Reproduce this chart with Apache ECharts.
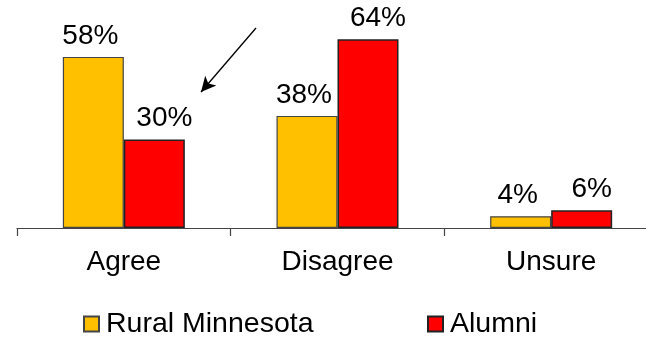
<!DOCTYPE html>
<html>
<head>
<meta charset="utf-8">
<script src="https://cdn.jsdelivr.net/npm/echarts@6/dist/echarts.min.js"></script>
<style>
  html, body {margin: 0; padding: 0; background: #fff; overflow: hidden;}
  /* plot runs past the right edge in the original, so the canvas is a bit wider than the window */
  #chart {width: 660px; height: 338px;}
</style>
</head>
<body>
<div id="chart"></div>
<script>
const categories = ["Agree", "Disagree", "Unsure"];
const ruralValues = [58, 38, 4];
const alumniValues = [30, 64, 6];
const seriesNames = ["Rural Minnesota", "Alumni"];

const FONT = "Liberation Sans, Arial, sans-serif";

const labelOpts = (dx) => ({
  show: true,
  position: "top",
  distance: 7,
  offset: [dx, 0],
  formatter: "{c}%",
  color: "#000",
  fontSize: 28,
  fontFamily: FONT,
});

const legendOpts = (name, left) => ({
  data: [name],
  left: left,
  top: 309,
  padding: 0,
  itemWidth: 15,
  itemHeight: 15,
  icon: "rect",
  textStyle: {fontSize: 28.5, fontFamily: FONT, color: "#000", lineHeight: 30, padding: [0, 0, 0, 2]},
});

const chart = echarts.init(document.getElementById("chart"));

chart.setOption({
  animation: false,
  backgroundColor: "#fff",
  grid: {left: 17, right: 2, top: 21.5, height: 206.5},
  legend: [legendOpts(seriesNames[0], 83), legendOpts(seriesNames[1], 427)],
  xAxis: {
    type: "category",
    data: categories,
    axisLine: {lineStyle: {color: "#444", width: 1.2}},
    axisTick: {show: true, length: 8, lineStyle: {color: "#444", width: 1.2}},
    axisLabel: {fontSize: 28, fontFamily: FONT, color: "#000", margin: 20},
  },
  yAxis: {
    type: "value",
    min: 0,
    max: 70,
    show: false,
    splitLine: {show: false},
  },
  series: [
    {
      name: seriesNames[0],
      type: "bar",
      data: ruralValues,
      barWidth: 61,
      barGap: "0%",
      itemStyle: {color: "#FFC000", borderColor: "#444", borderWidth: 1.2},
      label: labelOpts(-3),
      // the pointer arrow drawn on the slide
      markLine: {
        silent: true,
        symbol: ["none", "arrow"],
        symbolSize: [11, 15],
        lineStyle: {color: "#000", width: 1.3, type: "solid"},
        label: {show: false},
        data: [[{x: 256, y: 28}, {x: 201, y: 92}]],
      },
    },
    {
      name: seriesNames[1],
      type: "bar",
      data: alumniValues,
      barWidth: 61,
      barGap: "0%",
      itemStyle: {color: "#FF0000", borderColor: "#222", borderWidth: 1.5},
      label: labelOpts(10),
    },
  ],
});
</script>
</body>
</html>
